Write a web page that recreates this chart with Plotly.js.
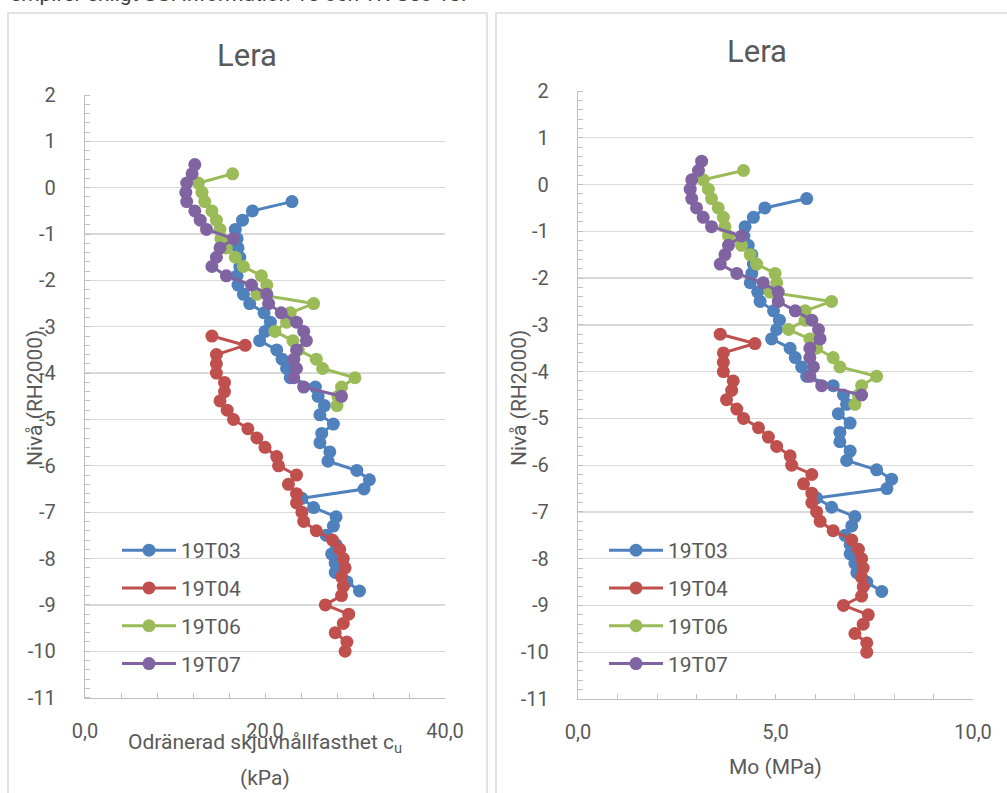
<!DOCTYPE html>
<html>
<head>
<meta charset="utf-8">
<script src="https://cdn.plot.ly/plotly-3.0.1.min.js"></script>
<style>
html,body{margin:0;padding:0;background:#fff;overflow:hidden;}
#chart{width:1007px;height:793px;}
</style>
</head>
<body>
<div id="chart"></div>
<script>
// ---------- data (level in m RH2000) ----------
const seriesNames = ['19T03', '19T04', '19T06', '19T07'];
const seriesColors = ['#4F81BD', '#C0504D', '#9BBB59', '#8064A2'];

const level19T03 = [-0.3,-0.5,-0.7,-0.9,-1.1,-1.3,-1.5,-1.7,-1.9,-2.1,-2.3,-2.5,-2.7,-2.9,-3.1,-3.3,-3.5,-3.7,-3.9,-4.1,-4.3,-4.5,-4.7,-4.9,-5.1,-5.3,-5.5,-5.7,-5.9,-6.1,-6.3,-6.5,-6.7,-6.9,-7.1,-7.3,-7.5,-7.7,-7.9,-8.1,-8.3,-8.5,-8.7];
const cu19T03 = [23.0,18.6,17.5,16.7,16.9,17.0,17.2,17.2,16.9,17.0,17.6,18.3,19.9,20.6,20.0,19.4,21.3,21.9,22.4,22.8,25.6,25.9,26.6,26.1,27.6,26.3,26.1,27.2,27.0,30.2,31.6,31.0,24.1,25.4,27.9,27.6,26.8,27.9,27.4,27.8,27.8,29.1,30.5];
const mo19T03 = [5.79,4.73,4.44,4.23,4.20,4.31,4.40,4.44,4.40,4.36,4.55,4.61,4.95,5.10,5.03,4.90,5.37,5.50,5.66,5.79,6.46,6.72,6.80,6.59,6.89,6.63,6.63,6.89,6.80,7.56,7.94,7.82,6.04,6.42,7.01,6.93,6.76,6.89,6.89,7.01,7.06,7.31,7.69];

const level19T04 = [-3.2,-3.4,-3.6,-3.8,-4.0,-4.2,-4.4,-4.6,-4.8,-5.0,-5.2,-5.4,-5.6,-5.8,-6.0,-6.2,-6.4,-6.6,-6.8,-7.0,-7.2,-7.4,-7.6,-7.8,-8.0,-8.2,-8.4,-8.6,-8.8,-9.0,-9.2,-9.4,-9.6,-9.8,-10.0];
const cu19T04 = [14.1,17.8,14.6,14.6,14.6,15.5,15.5,15.0,15.8,16.5,18.1,19.1,20.0,21.3,21.5,23.5,22.6,23.5,23.5,24.1,24.3,25.7,27.5,28.3,28.7,28.9,28.5,28.7,28.5,26.7,29.3,28.7,27.8,29.1,28.9];
const mo19T04 = [3.60,4.48,3.68,3.68,3.68,3.93,3.89,3.76,4.02,4.19,4.57,4.82,5.03,5.37,5.41,5.92,5.71,5.92,5.92,6.04,6.13,6.46,6.93,7.10,7.18,7.22,7.18,7.22,7.18,6.72,7.35,7.22,7.01,7.31,7.31];

const level19T06 = [0.3,0.1,-0.1,-0.3,-0.5,-0.7,-0.9,-1.1,-1.3,-1.5,-1.7,-1.9,-2.1,-2.3,-2.5,-2.7,-2.9,-3.1,-3.3,-3.5,-3.7,-3.9,-4.1,-4.3,-4.5,-4.7];
const cu19T06 = [16.4,12.6,13.0,13.3,14.1,14.6,15.0,15.1,15.7,16.7,17.6,19.6,20.2,19.1,25.4,22.8,22.4,21.1,23.1,23.7,25.7,26.4,30.0,28.5,28.1,28.0];
const mo19T06 = [4.19,3.17,3.30,3.38,3.55,3.68,3.72,3.81,4.14,4.36,4.52,4.99,5.03,4.86,6.42,5.75,5.75,5.33,5.87,6.04,6.46,6.63,7.56,7.18,7.10,7.01];

const level19T07 = [0.5,0.3,0.1,-0.1,-0.3,-0.5,-0.7,-0.9,-1.1,-1.3,-1.5,-1.7,-1.9,-2.1,-2.3,-2.5,-2.7,-2.9,-3.1,-3.3,-3.5,-3.7,-3.9,-4.1,-4.3,-4.5];
const cu19T07 = [12.2,11.9,11.3,11.2,11.3,12.2,12.8,13.5,16.5,15.0,14.6,14.1,15.7,18.5,20.2,20.4,21.8,23.5,24.3,24.6,23.5,23.2,23.5,23.2,24.3,28.5];
const mo19T07 = [3.13,3.05,2.88,2.84,2.88,3.00,3.17,3.38,4.14,3.81,3.72,3.60,4.02,4.69,5.07,5.07,5.50,5.92,6.09,6.13,5.87,5.87,5.96,5.87,6.17,7.18];

const yTickVals = [2,1,0,-1,-2,-3,-4,-5,-6,-7,-8,-9,-10,-11];
const yTickText = ['2','1','0','-1','-2','-3','-4','-5','-6','-7','-8','-9','-10','-11'];
const cuTickVals = [0,20,40];
const cuTickText = ['0,0','20,0','40,0'];
const moTickVals = [0,5,10];
const moTickText = ['0,0','5,0','10,0'];

const chartTitle = 'Lera';
const yTitle = 'Nivå (RH2000)';
const cuTitleLine1 = 'Odränerad skjuvhållfasthet c<sub>u</sub>';
const cuTitleLine2 = '(kPa)';
const moTitle = 'Mo (MPa)';
const topText = 'empirer enligt SGI Information 15 och TK Geo 13.';

// ---------- layout geometry ----------
const W = 1007, H = 793;
const M = {l: 85, r: 34, t: 91, b: 94};
const PW = W - M.l - M.r, PH = H - M.t - M.b;
const px = x => (x - M.l) / PW;       // pixel x -> paper
const py = y => (H - M.b - y) / PH;   // pixel y -> paper

const FONT = 'Roboto, "Open Sans", sans-serif';
const TXT = '#595959';

const levels = [level19T03, level19T04, level19T06, level19T07];
const cus = [cu19T03, cu19T04, cu19T06, cu19T07];
const mos = [mo19T03, mo19T04, mo19T06, mo19T07];

const traces = [];
seriesNames.forEach((n, i) => {
  traces.push({
    type: 'scatter', mode: 'lines+markers', name: n,
    x: cus[i], y: levels[i], xaxis: 'x', yaxis: 'y',
    line: {color: seriesColors[i], width: 3},
    marker: {color: seriesColors[i], size: 13},
    legend: 'legend', legendgroup: 'a' + i
  });
});
seriesNames.forEach((n, i) => {
  traces.push({
    type: 'scatter', mode: 'lines+markers', name: n,
    x: mos[i], y: levels[i], xaxis: 'x2', yaxis: 'y2',
    line: {color: seriesColors[i], width: 3},
    marker: {color: seriesColors[i], size: 13},
    legend: 'legend2', legendgroup: 'b' + i
  });
});

const yCommon = {
  range: [-11, 2], tickmode: 'array', tickvals: yTickVals, ticktext: yTickText,
  showgrid: true, gridcolor: '#D9D9D9', gridwidth: 1.3, zeroline: false,
  showline: true, linecolor: '#BFBFBF', linewidth: 1.3,
  ticks: '', ticklabelstandoff: 24,
  tickfont: {family: FONT, size: 20, color: TXT},
  minor: {tickmode: 'linear', tick0: 0, dtick: 0.2, ticks: 'inside', ticklen: 5, tickcolor: '#BFBFBF', tickwidth: 1, showgrid: false},
  fixedrange: true
};
const xCommon = {
  showgrid: false, zeroline: false, showline: true, linecolor: '#BFBFBF', linewidth: 1.3,
  ticks: 'inside', ticklen: 5, tickcolor: '#BFBFBF', tickmode: 'array',
  ticklabelstandoff: 15,
  tickfont: {family: FONT, size: 20, color: TXT},
  fixedrange: true
};

const legendCommon = {
  font: {family: FONT, size: 21, color: TXT},
  bgcolor: 'rgba(0,0,0,0)', borderwidth: 0,
  tracegroupgap: 7.5, itemwidth: 54, xanchor: 'left', yanchor: 'top', itemclick: false
};

const layout = {
  width: W, height: H, margin: M,
  paper_bgcolor: '#fff', plot_bgcolor: '#fff',
  separators: ', ',
  showlegend: true,
  xaxis: Object.assign({}, xCommon, {domain: [0, px(445)], range: [0, 40], tickvals: cuTickVals, ticktext: cuTickText, anchor: 'y',
    minor: {tickmode: 'linear', tick0: 0, dtick: 4, ticks: 'inside', ticklen: 5, tickcolor: '#BFBFBF', showgrid: false}}),
  yaxis: Object.assign({}, yCommon, {domain: [py(697.6), py(95)], anchor: 'x'}),
  xaxis2: Object.assign({}, xCommon, {domain: [px(578), 1], range: [0, 10], tickvals: moTickVals, ticktext: moTickText, anchor: 'y2',
    minor: {tickmode: 'linear', tick0: 0, dtick: 1, ticks: 'inside', ticklen: 5, tickcolor: '#BFBFBF', showgrid: false}}),
  yaxis2: Object.assign({}, yCommon, {domain: [0, 1], anchor: 'x2'}),
  legend: Object.assign({}, legendCommon, {x: px(117), y: py(530)}),
  legend2: Object.assign({}, legendCommon, {x: px(604), y: py(530)}),
  shapes: [
    {type: 'rect', xref: 'paper', yref: 'paper', x0: px(8), x1: px(487), y0: py(820), y1: py(13), line: {color: '#D9D9D9', width: 1.5}, layer: 'below'},
    {type: 'rect', xref: 'paper', yref: 'paper', x0: px(496), x1: px(1030), y0: py(820), y1: py(13), line: {color: '#D9D9D9', width: 1.5}, layer: 'below'}
  ],
  annotations: [
    {text: topText, xref: 'paper', yref: 'paper', x: px(8), y: py(8), xanchor: 'left', yanchor: 'bottom', showarrow: false, font: {family: FONT, size: 21, color: '#404040'}},
    {text: chartTitle, xref: 'paper', yref: 'paper', x: px(247), y: py(55), xanchor: 'center', yanchor: 'middle', showarrow: false, font: {family: FONT, size: 31, color: TXT}},
    {text: chartTitle, xref: 'paper', yref: 'paper', x: px(757), y: py(52), xanchor: 'center', yanchor: 'middle', showarrow: false, font: {family: FONT, size: 31, color: TXT}},
    {text: yTitle, xref: 'paper', yref: 'paper', x: px(35), y: py(398), xanchor: 'center', yanchor: 'middle', textangle: -90, showarrow: false, font: {family: FONT, size: 21, color: TXT}},
    {text: yTitle, xref: 'paper', yref: 'paper', x: px(519), y: py(398), xanchor: 'center', yanchor: 'middle', textangle: -90, showarrow: false, font: {family: FONT, size: 21, color: TXT}},
    {text: cuTitleLine1, xref: 'paper', yref: 'paper', x: px(265), y: py(743), xanchor: 'center', yanchor: 'middle', showarrow: false, font: {family: FONT, size: 21, color: TXT}},
    {text: cuTitleLine2, xref: 'paper', yref: 'paper', x: px(265), y: py(778), xanchor: 'center', yanchor: 'middle', showarrow: false, font: {family: FONT, size: 21, color: TXT}},
    {text: moTitle, xref: 'paper', yref: 'paper', x: px(775), y: py(767), xanchor: 'center', yanchor: 'middle', showarrow: false, font: {family: FONT, size: 21, color: TXT}}
  ]
};

Plotly.newPlot('chart', traces, layout, {displayModeBar: false, staticPlot: true});
</script>
</body>
</html>
